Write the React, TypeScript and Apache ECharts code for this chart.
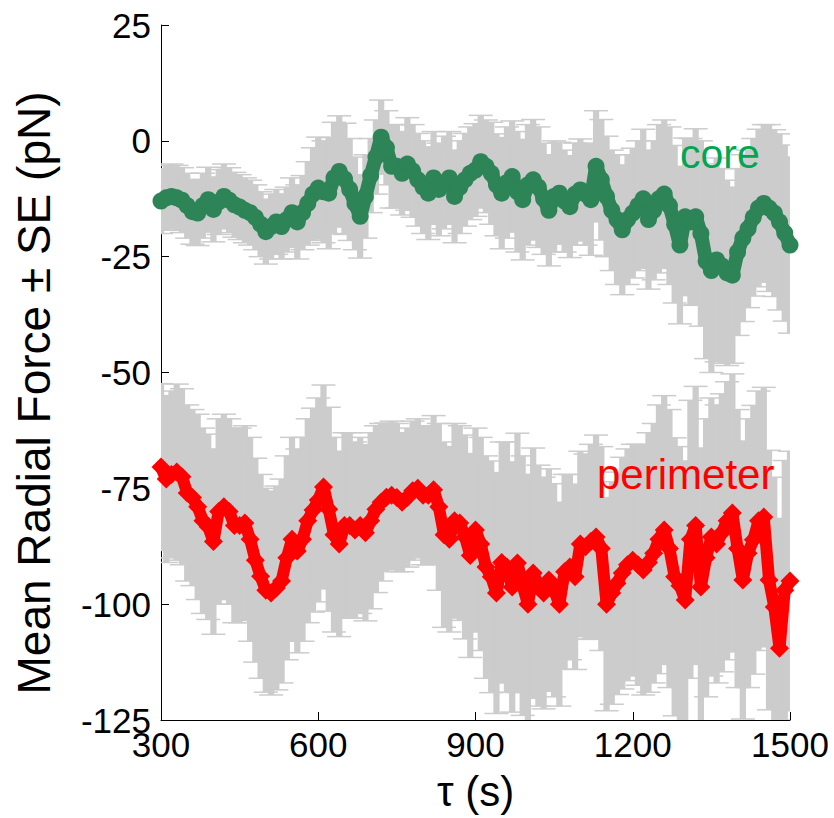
import React, { useEffect, useRef } from "react";
import * as echarts from "echarts";

// sampling times (s)
const tau = [
  300, 310, 320, 330, 340, 350, 360, 370, 380, 390,
  400, 410, 420, 430, 440, 450, 460, 470, 480, 490,
  500, 510, 520, 530, 540, 550, 560, 570, 580, 590,
  600, 610, 620, 630, 640, 650, 660, 670, 680, 690,
  700, 710, 720, 730, 740, 750, 760, 770, 780, 790,
  800, 810, 820, 830, 840, 850, 860, 870, 880, 890,
  900, 910, 920, 930, 940, 950, 960, 970, 980, 990,
  1000, 1010, 1020, 1030, 1040, 1050, 1060, 1070, 1080, 1090,
  1100, 1110, 1120, 1130, 1140, 1150, 1160, 1170, 1180, 1190,
  1200, 1210, 1220, 1230, 1240, 1250, 1260, 1270, 1280, 1290,
  1300, 1310, 1320, 1330, 1340, 1350, 1360, 1370, 1380, 1390,
  1400, 1410, 1420, 1430, 1440, 1450, 1460, 1470, 1480, 1490,
  1500,
];

const coreMean = [
  -13, -12.3, -12, -12.3, -12.8, -14, -15.3, -15.6, -14, -12.7,
  -14.8, -13.2, -12, -12.8, -13.8, -14.3, -15, -15.5, -16.5, -18,
  -19.6, -18.5, -17.5, -18.5, -17, -15.5, -17.5, -15.5, -13.5, -11.5,
  -10.2, -11, -11.3, -8, -6.6, -8.2, -10.5, -13.5, -16.3, -12,
  -7.5, -3.5, 0.8, -1.5, -5.5, -5.5, -7, -5, -6.5, -8.4,
  -10, -11.3, -8, -10.5, -9, -8, -12, -10, -8.4, -7,
  -6.3, -4.5, -5.5, -7, -9.5, -11.3, -9, -7.7, -11, -12.7,
  -9.5, -8.4, -10, -12.5, -15, -12, -11.3, -13, -14.2, -11.5,
  -10.6, -11.5, -12.7, -5.5, -8.4, -12, -15, -17, -19.2, -17,
  -15.6, -14, -12.5, -17, -15, -12.5, -11.5, -14, -18, -22.5,
  -16.4, -17.5, -16.4, -20, -26, -28, -25.7, -27, -28.5, -29,
  -24, -21, -19, -16.5, -14.5, -13.5, -14.5, -15.6, -17.5, -19.9,
  -22.5,
];

const coreSE = [
  7, 7, 7, 7, 7, 7, 7, 7, 7, 7,
  7, 7, 7, 7, 7, 7, 7, 7, 7, 7,
  7, 7, 7, 7, 7, 7.5, 8, 8, 9, 10,
  11, 11, 12, 12, 12, 12, 11, 10, 9, 9,
  8, 8, 8, 8, 9, 9, 9, 10, 10, 10,
  10, 10, 10, 10, 10, 10, 10, 10, 10, 10,
  10, 10, 10, 11, 11, 12, 12, 12, 13, 13,
  13, 13, 13, 12, 12, 12, 11, 11, 11, 11,
  11, 11, 12, 12, 13, 13, 13, 14, 14, 14,
  14, 14, 15, 15, 15, 16, 16, 17, 17, 17,
  17, 18, 19, 20, 21, 22, 22, 21, 20, 19,
  18, 18, 17, 17, 17, 17, 18, 18, 19, 19,
  19,
];

const perimMean = [
  -70.4, -73, -72, -71.5, -72.5, -76, -77, -79, -82, -83.3,
  -86.5, -80, -79, -80, -83, -83, -82.5, -86, -90.5, -94,
  -97, -97.6, -96.5, -95, -90, -86, -88.5, -86, -82, -79.7,
  -77.5, -74.7, -79.5, -85, -87, -83, -83, -84, -83, -84.6,
  -82, -79.5, -78, -76.9, -76.5, -77, -78, -77, -75.5, -75,
  -76.5, -76.5, -75.3, -79, -85, -86, -82, -82.5, -85.5, -89.5,
  -84, -87, -92, -94.1, -97.6, -91, -92, -96.3, -91.1, -96,
  -100, -93.3, -96, -97.6, -94.8, -97, -100, -93, -92, -94.1,
  -87, -87.6, -86.5, -85.5, -88, -100, -97.6, -95.5, -93.3, -91.5,
  -90.5, -91.5, -92.6, -91, -89, -86, -84, -88, -94.1, -96,
  -99.1, -86, -83, -96.3, -90, -85.5, -87, -84.6, -82, -80.3,
  -88, -94.8, -89, -86.1, -82, -81.2, -94.8, -100.6, -109.5, -97,
  -95,
];

const perimSE = [
  18, 18, 18, 19, 19, 19, 19, 20, 20, 20,
  20, 20, 20, 20, 21, 21, 21, 22, 22, 22,
  22, 22, 22, 22, 22, 22, 22, 22, 22, 22,
  22, 22, 22, 21, 20, 20, 20, 19, 19, 19,
  19, 18, 17, 16, 16, 16, 15, 15, 15, 15,
  15, 15, 16, 18, 20, 20, 21, 21, 22, 22,
  22, 23, 24, 25, 26, 26, 27, 27, 28, 28,
  28, 27, 26, 25, 24, 23, 22, 21, 20, 20,
  20, 20, 21, 22, 22, 23, 24, 24, 25, 25,
  25, 26, 27, 28, 28, 29, 29, 30, 30, 30,
  30, 30, 30, 30, 30, 30, 30, 30, 30, 30,
  30, 30, 29, 29, 28, 28, 28, 28, 28, 28,
  28,
];

const xTicks = [300, 600, 900, 1200, 1500];
const yTicks = [-125, -100, -75, -50, -25, 0, 25];
const seriesLabels = ["core", "perimeter"];
const xTitle = "τ (s)";
const yTitle = "Mean Radial Force ± SE (pN)";

const GREY = "#CCCCCC";
const FONT = "'Liberation Sans', Arial, Helvetica, sans-serif";

export default function App() {
  const ref = useRef<HTMLDivElement>(null);

  useEffect(() => {
    document.body.style.margin = "0";
    if (!ref.current) return;
    const chart = echarts.init(ref.current, undefined, { renderer: "svg" });
    const step = tau[1] - tau[0];

    const errRender = (params: any, api: any) => {
      const x = api.value(0);
      const lo = api.coord([x, api.value(1)]);
      const hi = api.coord([x, api.value(2)]);
      const w = api.size([step, 0])[0] + 1;
      const cap = 12;
      return {
        type: "group",
        children: [
          {
            type: "rect",
            shape: { x: lo[0] - w / 2, y: hi[1], width: w, height: lo[1] - hi[1] },
            style: { fill: GREY },
          },
          {
            type: "line",
            shape: { x1: hi[0] - cap, y1: hi[1], x2: hi[0] + cap, y2: hi[1] },
            style: { stroke: GREY, lineWidth: 1.5 },
          },
          {
            type: "line",
            shape: { x1: lo[0] - cap, y1: lo[1], x2: lo[0] + cap, y2: lo[1] },
            style: { stroke: GREY, lineWidth: 1.5 },
          },
        ],
      };
    };

    const coreErr = tau.map((t, i) => [t, coreMean[i] - coreSE[i], coreMean[i] + coreSE[i]]);
    const perimErr = tau.map((t, i) => [t, perimMean[i] - perimSE[i], perimMean[i] + perimSE[i]]);
    const corePts = tau.map((t, i) => [t, coreMean[i]]);
    const perimPts = tau.map((t, i) => [t, perimMean[i]]);

    chart.setOption({
      animation: false,
      textStyle: { fontFamily: FONT },
      grid: { left: 161, right: 44, top: 25, bottom: 98, containLabel: false },
      xAxis: {
        type: "value",
        min: xTicks[0],
        max: xTicks[xTicks.length - 1],
        interval: xTicks[1] - xTicks[0],
        name: xTitle,
        nameLocation: "middle",
        nameGap: 50,
        nameTextStyle: { fontSize: 42, color: "#000", fontFamily: FONT },
        axisLine: { show: true, onZero: false, lineStyle: { color: "#000", width: 1 } },
        axisTick: { show: true, inside: true, length: 8, lineStyle: { color: "#000" } },
        axisLabel: {
          fontSize: 35,
          color: "#000",
          margin: 7,
          fontFamily: FONT,
          formatter: (v: number) => String(v),
        },
        splitLine: { show: false },
      },
      yAxis: {
        type: "value",
        min: yTicks[0],
        max: yTicks[yTicks.length - 1],
        interval: yTicks[1] - yTicks[0],
        axisLine: { show: true, onZero: false, lineStyle: { color: "#000", width: 1 } },
        axisTick: { show: true, inside: true, length: 8, lineStyle: { color: "#000" } },
        axisLabel: {
          fontSize: 35,
          color: "#000",
          margin: 10,
          fontFamily: FONT,
          formatter: (v: number) => String(v),
        },
        splitLine: { show: false },
      },
      graphic: [
        {
          type: "text",
          x: 34,
          y: 393,
          rotation: Math.PI / 2,
          style: {
            text: yTitle,
            fill: "#000",
            font: `46px ${FONT}`,
            align: "center",
            verticalAlign: "middle",
          },
          z: 100,
        },
        {
          type: "text",
          x: 680,
          y: 154,
          style: {
            text: seriesLabels[0],
            fill: "#00A651",
            font: `41px ${FONT}`,
            verticalAlign: "middle",
          },
          z: 100,
        },
        {
          type: "text",
          x: 597,
          y: 474,
          style: {
            text: seriesLabels[1],
            fill: "#FF0000",
            font: `42px ${FONT}`,
            verticalAlign: "middle",
          },
          z: 100,
        },
      ],
      series: [
        { type: "custom", name: "core SE", renderItem: errRender, data: coreErr, clip: true, z: 1 },
        { type: "custom", name: "perimeter SE", renderItem: errRender, data: perimErr, clip: true, z: 1 },
        {
          type: "line",
          name: "core",
          data: corePts,
          showSymbol: true,
          symbol: "circle",
          symbolSize: 17,
          itemStyle: { color: "#2D8456" },
          lineStyle: { color: "#2D8456", width: 14, join: "round", cap: "round" },
          z: 3,
        },
        {
          type: "line",
          name: "perimeter",
          data: perimPts,
          showSymbol: true,
          symbol: "diamond",
          symbolSize: 19,
          itemStyle: { color: "#FF0000" },
          lineStyle: { color: "#FF0000", width: 12, join: "round", cap: "round" },
          z: 3,
        },
      ],
    });

    return () => chart.dispose();
  }, []);

  return <div ref={ref} style={{ width: 834, height: 818 }} />;
}
